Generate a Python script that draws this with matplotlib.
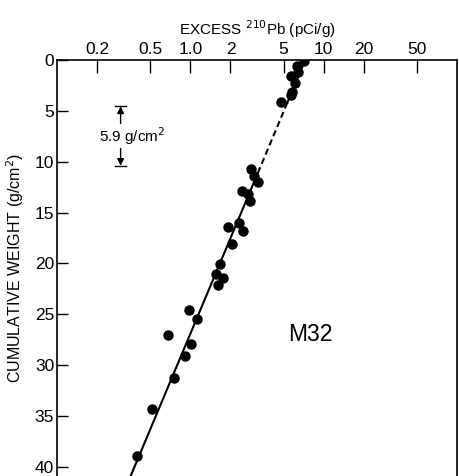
import numpy as np
import matplotlib
matplotlib.use("Agg")
import matplotlib.pyplot as plt

plt.rcParams['font.family'] = ['Liberation Sans', 'DejaVu Sans']

# Data
excess_pb = [7.16, 6.35, 6.46, 5.72, 6.13, 5.82, 5.72, 4.82,
             2.87, 2.98, 3.19, 2.42, 2.73, 2.82, 2.30, 1.90, 2.50, 2.04,
             1.66, 1.57, 1.77, 1.60, 0.97, 1.13, 0.676, 1.02, 0.905,
             0.75, 0.513, 0.396]
cum_weight = [0.1, 0.6, 1.17, 1.55, 2.23, 3.1, 3.4, 4.17,
              10.68, 11.36, 12.04, 12.9, 13.2, 13.9, 16.0, 16.4, 16.8, 18.06,
              20.1, 21.07, 21.46, 22.1, 24.56, 25.5, 27.0, 27.9, 29.1,
              31.26, 34.27, 38.9]

# Fitted line: log10(A) = fit_a - fit_b * W
fit_a = 0.862
fit_b = 0.03202
solid_top = [0.0, 4.2]
dashed_mid = [4.2, 10.7]
solid_bot = [10.7, 41.0]

xticks = [0.2, 0.5, 1.0, 2, 5, 10, 20, 50]
xticklabels = ['0.2', '0.5', '1.0', '2', '5', '10', '20', '50']
yticks = [0, 5, 10, 15, 20, 25, 30, 35, 40]
bracket_top, bracket_bot = 4.56, 10.4


def fit(w):
    w = np.asarray(w, dtype=float)
    return 10 ** (fit_a - fit_b * w)


fig = plt.figure(figsize=(4.59, 4.76), dpi=100)
ax = fig.add_axes([57 / 459, 0.0, 400 / 459, 1 - 60 / 476])

ax.set_xscale('log')
ax.set_xlim(0.1, 100)
ax.set_ylim(40.9, 0)

for seg, ls in [(solid_top, '-'), (dashed_mid, (0, (3, 1.8))), (solid_bot, '-')]:
    ax.plot(fit(seg), seg, color='black', lw=1.5, ls=ls)

ax.plot(excess_pb, cum_weight, 'o', color='black', ms=6.5, mec='black')

ax.xaxis.set_ticks_position('top')
ax.xaxis.set_label_position('top')
ax.set_xticks(xticks)
ax.set_xticklabels(xticklabels)
ax.minorticks_off()
ax.tick_params(axis='x', which='major', direction='in', length=9, width=1.0,
               labelsize=12.5, pad=2)
ax.set_yticks(yticks)
ax.tick_params(axis='y', direction='in', length=8, width=1.0, labelsize=12.5, pad=2)
ax.spines['bottom'].set_visible(False)
for s in ['top', 'left', 'right']:
    ax.spines[s].set_linewidth(1.2)

ax.set_xlabel('EXCESS $^{210}$Pb (pCi/g)', fontsize=11, labelpad=5)
ax.set_ylabel('CUMULATIVE WEIGHT (g/cm$^2$)', fontsize=11.5, labelpad=6)

# 5.9 g/cm^2 bracket
bx = 0.30
ax.annotate('', xy=(bx, bracket_top), xytext=(bx, bracket_bot),
            arrowprops=dict(arrowstyle='<|-|>', color='black', lw=1.0,
                            mutation_scale=10, shrinkA=0, shrinkB=0))
ax.plot([bx / 1.1, bx * 1.1], [bracket_top, bracket_top], color='black', lw=1.0)
ax.plot([bx / 1.1, bx * 1.1], [bracket_bot, bracket_bot], color='black', lw=1.0)
ax.text(0.205, (bracket_top + bracket_bot) / 2, '5.9 g/cm$^2$', fontsize=11,
        ha='left', va='center',
        bbox=dict(facecolor='white', edgecolor='none', pad=0.5))

ax.text(5.4, 27.0, 'M32', fontsize=16.5, ha='left', va='center')

fig.savefig('out.png', dpi=100)
